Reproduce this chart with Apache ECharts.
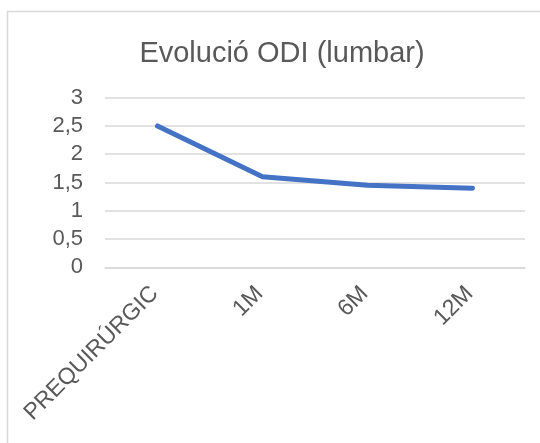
<!DOCTYPE html>
<html>
<head>
<meta charset="utf-8">
<script src="https://cdn.jsdelivr.net/npm/echarts@6/dist/echarts.min.js"></script>
<style>html,body{margin:0;padding:0;background:#fff}#c{width:540px;height:443px}</style>
</head>
<body>
<div id="c"></div>
<script>
const categories = ['PREQUIRÚRGIC', '1M', '6M', '12M'];
const odiValues = [2.5, 1.6, 1.45, 1.4];
const yTicks = [0, 0.5, 1, 1.5, 2, 2.5, 3];

const chart = echarts.init(document.getElementById('c'));
const font = 'Liberation Sans, Arial, sans-serif';
chart.setOption({
  animation: false,
  backgroundColor: '#fff',
  title: {
    text: 'Evolució ODI (lumbar)',
    left: 277, top: 34, textAlign: 'center',
    textStyle: { fontFamily: font, fontSize: 29, fontWeight: 'normal', color: '#595959' }
  },
  graphic: [{
    type: 'rect', shape: { x: 7.5, y: 11.5, width: 560, height: 460 },
    style: { fill: 'none', stroke: '#d9d9d9', lineWidth: 1.5 }, z: -1
  }],
  grid: { left: 105, right: 15, top: 97.7, bottom: 175.7 },
  xAxis: {
    type: 'category', data: categories, boundaryGap: true,
    axisLine: { show: true, lineStyle: { color: '#d9d9d9', width: 1.5 } },
    axisTick: { show: false },
    axisLabel: { rotate: 45, margin: 20, padding: [0, 4, 0, 0], fontFamily: font, fontSize: 23, color: '#595959', interval: 0 }
  },
  yAxis: {
    type: 'value', min: yTicks[0], max: yTicks[yTicks.length - 1], interval: 0.5,
    axisLine: { show: false }, axisTick: { show: false },
    splitLine: { lineStyle: { color: '#d9d9d9', width: 1.5 } },
    axisLabel: {
      margin: 22, fontFamily: font, fontSize: 22, color: '#595959',
      formatter: v => String(v).replace('.', ',')
    }
  },
  series: [{
    type: 'line', data: odiValues, showSymbol: false, symbol: 'none',
    lineStyle: { color: '#4472C4', width: 5, cap: 'round', join: 'round' }
  }]
});
</script>
</body>
</html>
